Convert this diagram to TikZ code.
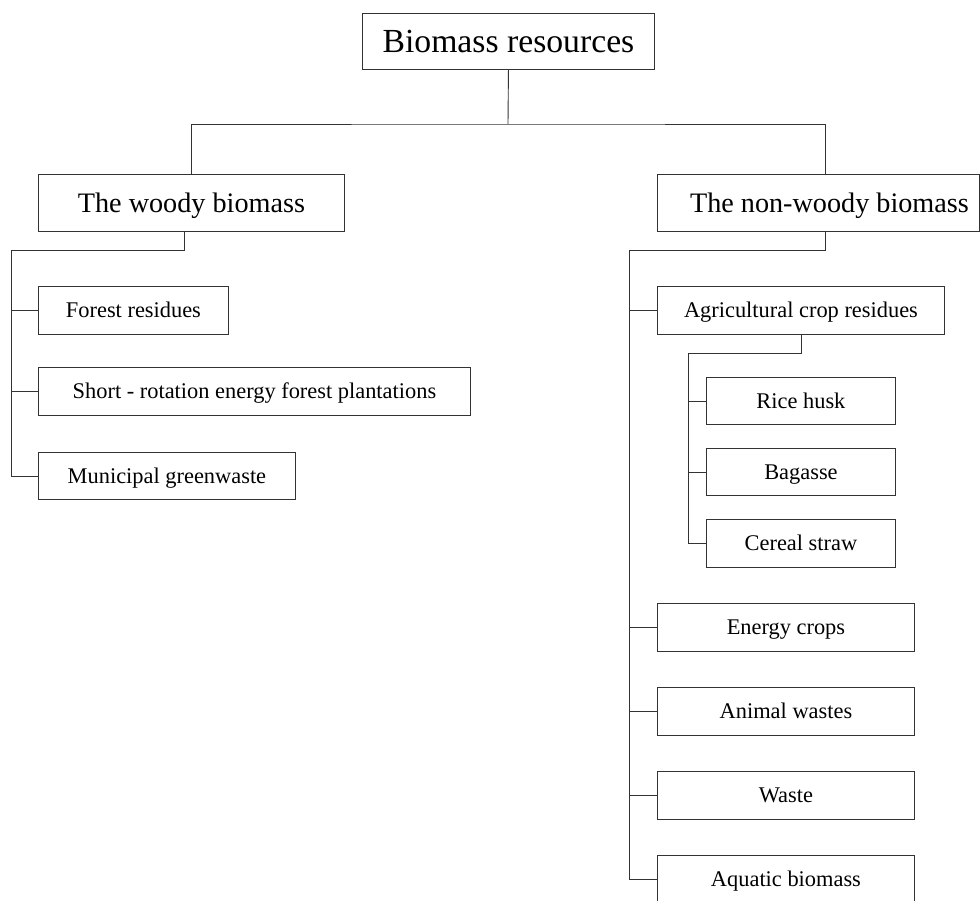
\documentclass[tikz,border=0pt]{standalone}
\usepackage{fontspec}
\setmainfont{Liberation Serif}
\begin{document}
\begin{tikzpicture}[x=1pt,y=1pt,
  box/.style={draw=black!80, line width=0.9pt, rectangle, anchor=north west, inner sep=0pt, align=center, text depth=0pt},
  bigfont/.style={font=\fontsize{33.7}{40}\selectfont, text height=22.2pt},
  midfont/.style={font=\fontsize{28.2}{34}\selectfont, text height=18.6pt},
  smallfont/.style={font=\fontsize{22.4}{27}\selectfont, text height=14.8pt},
  conn/.style={draw=black!80, line width=0.9pt}
]
\useasboundingbox (0,0) rectangle (980,-900);
\clip (0,0) rectangle (980,-900);

% nodes
\node[box, bigfont, minimum width=292, minimum height=56] (top) at (362,-13) {Biomass resources};
\node[box, midfont, minimum width=306, minimum height=57] (woody) at (38,-174) {The woody biomass};
\node[box, midfont, minimum width=322, minimum height=57] (nonwoody) at (657,-174) {\hspace*{22pt}The non-woody biomass};

\node[box, smallfont, minimum width=190, minimum height=48] (fr) at (38,-286) {Forest residues};
\node[box, smallfont, minimum width=432, minimum height=48] (sr) at (38,-367) {Short - rotation energy forest plantations};
\node[box, smallfont, minimum width=257, minimum height=47] (mg) at (38,-452) {Municipal greenwaste};

\node[box, smallfont, minimum width=287, minimum height=48] (agr) at (657,-286) {Agricultural crop residues};
\node[box, smallfont, minimum width=189, minimum height=47] (rice) at (706,-377) {Rice husk};
\node[box, smallfont, minimum width=189, minimum height=47] (bag) at (706,-448) {Bagasse};
\node[box, smallfont, minimum width=189, minimum height=48] (cer) at (706,-519) {Cereal straw};
\node[box, smallfont, minimum width=257, minimum height=48] (ene) at (657,-603) {Energy crops};
\node[box, smallfont, minimum width=257, minimum height=48] (ani) at (657,-687) {Animal wastes};
\node[box, smallfont, minimum width=257, minimum height=48] (was) at (657,-771) {Waste};
\node[box, smallfont, minimum width=257, minimum height=48] (aqu) at (657,-855) {Aquatic biomass};

% junction coordinates
\coordinate (j0) at (508,-124);
\coordinate (nwtop) at (825,-174);
\coordinate (wb) at (184,-231);
\coordinate (wtrunk) at (11,-250);
\coordinate (nwb) at (825,-231);
\coordinate (nwtrunk) at (629,-250);
\coordinate (ab) at (801,-334);
\coordinate (atrunk) at (688,-353);

% level 1
\draw[conn] (top.south) -- (j0);
\draw[conn] (woody.north) |- (j0) -| (nwtop);

% woody branch
\draw[conn] (wb) |- (wtrunk) -- (wtrunk |- mg.west) -- (mg.west);
\draw[conn] (wtrunk |- fr.west) -- (fr.west);
\draw[conn] (wtrunk |- sr.west) -- (sr.west);

% non-woody branch
\draw[conn] (nwb) |- (nwtrunk) -- (nwtrunk |- aqu.west) -- (aqu.west);
\draw[conn] (nwtrunk |- agr.west) -- (agr.west);
\draw[conn] (nwtrunk |- ene.west) -- (ene.west);
\draw[conn] (nwtrunk |- ani.west) -- (ani.west);
\draw[conn] (nwtrunk |- was.west) -- (was.west);

% agricultural sub-branch
\draw[conn] (ab) |- (atrunk) -- (atrunk |- cer.west) -- (cer.west);
\draw[conn] (atrunk |- rice.west) -- (rice.west);
\draw[conn] (atrunk |- bag.west) -- (bag.west);
\end{tikzpicture}
\end{document}
